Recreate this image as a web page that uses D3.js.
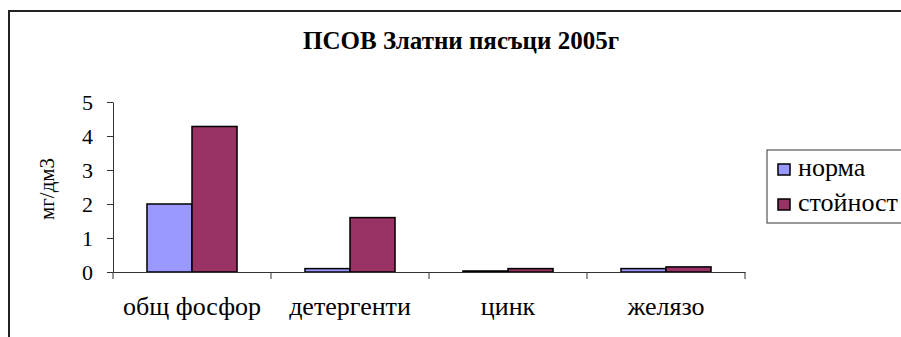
<!DOCTYPE html>
<html>
<head>
<meta charset="utf-8">
<script src="https://cdn.jsdelivr.net/npm/d3@7"></script>
<style>
  body { margin: 0; background: #fff; }
  svg { display: block; }
</style>
</head>
<body>
<div id="chart"></div>
<script>
  // chart data
  const categories = ['общ фосфор', 'детергенти', 'цинк', 'желязо']
  const seriesNames = ['норма', 'стойност']
  const normaValues = [2.0, 0.1, 0.03, 0.1]
  const stoinostValues = [4.28, 1.6, 0.1, 0.15]
  const yTicks = [0, 1, 2, 3, 4, 5]
  const titleText = 'ПСОВ Златни пясъци 2005г'
  const yLabel = 'мг/дм3'

  const COLORS = ['#9999FF', '#993366']
  const FONT = "'Liberation Serif'"
  const W = 901
  const H = 337
  const PLOT = { left: 113, right: 745, top: 102, bottom: 272 }

  const svg = d3.select('#chart').append('svg')
    .attr('width', W)
    .attr('height', H)

  // outer chart frame
  svg.append('rect')
    .attr('x', 9).attr('y', 11)
    .attr('width', W + 20).attr('height', H + 20)
    .attr('fill', '#fff')
    .attr('stroke', '#222')
    .attr('stroke-width', 2)

  svg.append('text')
    .attr('x', 461).attr('y', 49)
    .attr('text-anchor', 'middle')
    .attr('font-weight', 'bold')
    .attr('font-size', 25)
    .style('font-family', FONT)
    .text(titleText)

  const x = d3.scaleBand()
    .domain(categories)
    .range([PLOT.left, PLOT.right])
    .paddingInner(0.43)
    .paddingOuter(0.215)

  const xSub = d3.scaleBand()
    .domain(seriesNames)
    .range([0, x.bandwidth()])

  const y = d3.scaleLinear()
    .domain([0, 5])
    .range([PLOT.bottom, PLOT.top])

  // y axis
  const yAxis = d3.axisLeft(y)
    .tickValues(yTicks)
    .tickFormat(d3.format('d'))
    .tickSize(6)
    .tickPadding(14)
    .tickSizeOuter(0)

  const gy = svg.append('g')
    .attr('transform', `translate(${PLOT.left},0)`)
    .call(yAxis)
  gy.selectAll('text')
    .attr('font-size', 22)
    .attr('fill', '#000')
    .style('font-family', FONT)
  gy.selectAll('line, path').attr('stroke', '#333')

  svg.append('text')
    .attr('transform', `translate(54,${(PLOT.top + PLOT.bottom) / 2 + 2}) rotate(-90)`)
    .attr('text-anchor', 'middle')
    .attr('font-size', 21)
    .style('font-family', FONT)
    .text(yLabel)

  // bars
  const rows = categories.map((c, i) => ({ cat: c, values: [normaValues[i], stoinostValues[i]] }))

  svg.append('g').selectAll('g')
    .data(rows)
    .join('g')
    .attr('transform', d => `translate(${x(d.cat)},0)`)
    .selectAll('rect')
    .data(d => d.values.map((v, j) => ({ name: seriesNames[j], value: v, j })))
    .join('rect')
    .attr('x', d => xSub(d.name))
    .attr('width', xSub.bandwidth())
    .attr('y', d => y(d.value))
    .attr('height', d => y(0) - y(d.value))
    .attr('fill', d => COLORS[d.j])
    .attr('stroke', '#000')
    .attr('stroke-width', 1.5)

  // x axis: labels at band centres, tick marks at band boundaries
  const xAxis = d3.axisBottom(x).tickSize(0).tickPadding(25)
  const gx = svg.append('g')
    .attr('transform', `translate(0,${PLOT.bottom})`)
    .call(xAxis)
  gx.select('.domain').attr('stroke', '#333')
  gx.selectAll('text')
    .attr('font-size', 26)
    .attr('fill', '#000')
    .style('font-family', FONT)

  const bounds = d3.range(categories.length + 1).map(i => PLOT.left + i * x.step())
  gx.selectAll('.bound')
    .data(bounds)
    .join('line')
    .attr('class', 'bound')
    .attr('x1', d => d).attr('x2', d => d)
    .attr('y1', 0).attr('y2', 7)
    .attr('stroke', '#333')

  // legend
  const legend = svg.append('g')
  legend.append('rect')
    .attr('x', 767).attr('y', 150)
    .attr('width', 200).attr('height', 73)
    .attr('fill', '#fff')
    .attr('stroke', '#333')
    .attr('stroke-width', 1)

  const li = legend.selectAll('g.item')
    .data(seriesNames)
    .join('g')
    .attr('class', 'item')
    .attr('transform', (d, i) => `translate(778,${164 + i * 35})`)
  li.append('rect')
    .attr('width', 12).attr('height', 11)
    .attr('fill', (d, i) => COLORS[i])
    .attr('stroke', '#000')
    .attr('stroke-width', 1.5)
  li.append('text')
    .attr('x', 20).attr('y', 12)
    .attr('font-size', 26)
    .style('font-family', FONT)
    .text(d => d)
</script>
</body>
</html>
